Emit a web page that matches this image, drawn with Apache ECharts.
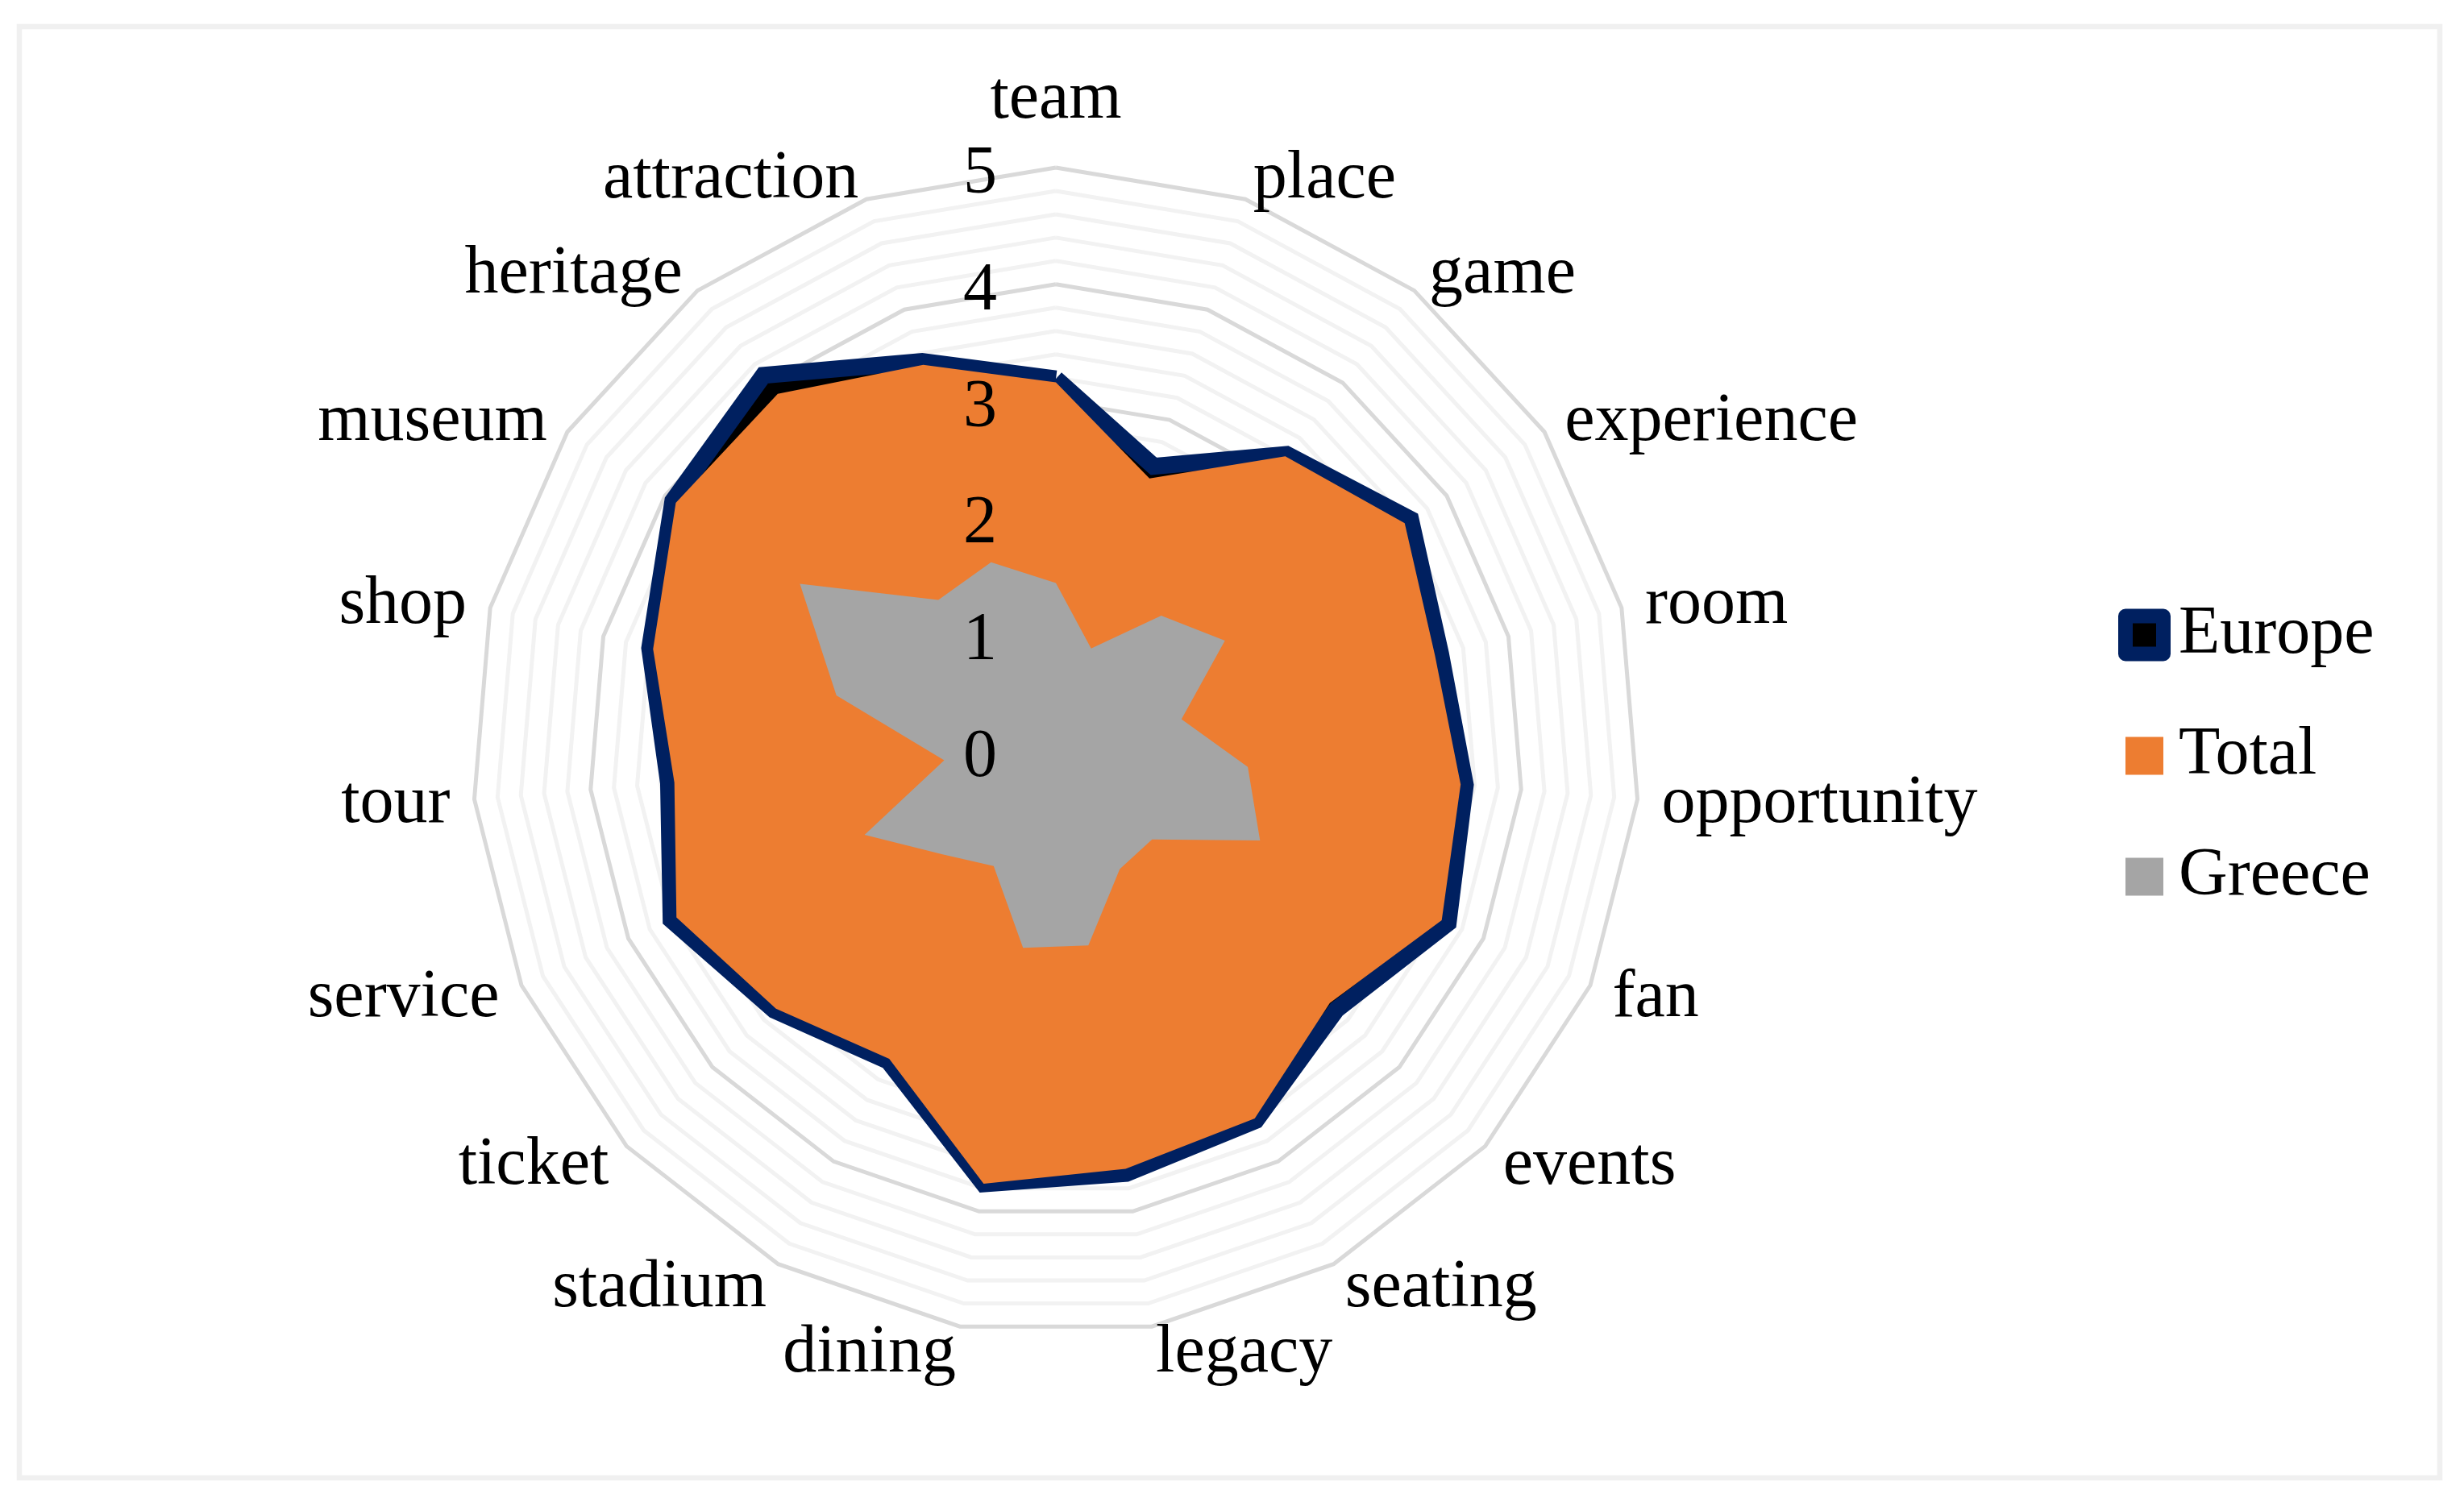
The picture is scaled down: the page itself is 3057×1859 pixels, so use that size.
<!DOCTYPE html>
<html>
<head>
<meta charset="utf-8">
<script src="https://cdn.jsdelivr.net/npm/echarts@6/dist/echarts.min.js"></script>
<style>
  html, body { margin: 0; padding: 0; background: #fff; }
  #mychart { width: 3057px; height: 1859px; }
</style>
</head>
<body>
<div id="mychart"></div>
<script>
// categories clockwise from the top
const categories = ['team', 'place', 'game', 'experience', 'room', 'opportunity', 'fan', 'events', 'seating', 'legacy',
  'dining', 'stadium', 'ticket', 'service', 'tour', 'shop', 'museum', 'heritage', 'attraction'];
const europe = [3.19, 2.58, 3.22, 3.63, 3.40, 3.52, 3.67, 3.27, 3.60, 3.67, 3.76, 3.02, 3.28, 3.60, 3.33, 3.59, 3.92, 4.08, 3.53];
const total = [3.16, 2.47, 3.20, 3.57, 3.35, 3.48, 3.61, 3.19, 3.58, 3.63, 3.76, 3.00, 3.26, 3.55, 3.28, 3.56, 3.89, 3.88, 3.50];
const greece = [1.44, 0.93, 1.47, 1.73, 1.11, 1.65, 1.91, 1.12, 1.15, 1.69, 1.71, 1.12, 1.31, 1.79, 0.96, 1.94, 2.62, 1.64, 1.71];
const tickLabels = ['0', '1', '2', '3', '4', '5'];
const seriesNames = ['Europe', 'Total', 'Greece'];

const FONT = "'Liberation Serif', 'Times New Roman', serif";
const CX = 1310, CY = 932;
const RADIUS = 724;

// echarts walks the indicators counter-clockwise, so feed them in reverse (team stays first)
const order = categories.map((c, i) => (categories.length - i) % categories.length);
const pick = arr => order.map(k => arr[k]);

const plainIndicator = order.map(k => ({ name: categories[k], min: 0, max: 5 }));

const nameIndicator = order.map(k => {
  const ind = { name: categories[k], min: 0, max: 5 };
  if (k === 0) ind.nameGap = 46;
  return ind;
});

// only the team axis carries the 0..5 labels
const labelIndicator = order.map(k => {
  const ind = { name: categories[k], min: 0, max: 5 };
  if (k === 0) {
    ind.axisLabel = {
      show: true,
      color: '#000',
      fontFamily: FONT,
      fontSize: 84,
      margin: 73,
      formatter: function (v) {
        const r = Math.round(v);
        return Math.abs(v - r) < 1e-6 ? tickLabels[r] : '';
      }
    };
  }
  return ind;
});

const hidden = {
  axisLine: { show: false },
  axisTick: { show: false },
  axisLabel: { show: false },
  splitArea: { show: false },
  splitLine: { show: false }
};

const option = {
  backgroundColor: '#fff',
  animation: false,
  graphic: [{
    type: 'rect',
    silent: true,
    z: -10,
    shape: { x: 24, y: 33, width: 3003, height: 1801 },
    style: { fill: 'none', stroke: '#f0f0f0', lineWidth: 6.5 }
  }],
  legend: {
    orient: 'vertical',
    left: 2623,
    top: 741,
    itemWidth: 47,
    itemHeight: 47,
    itemGap: 66,
    icon: 'rect',
    selectedMode: false,
    textStyle: { color: '#000', fontFamily: FONT, fontSize: 84, padding: [0, 0, 0, 14] },
    data: [
      { name: seriesNames[0], itemStyle: { color: '#000', borderColor: '#002060', borderWidth: 18, borderJoin: 'round' } },
      { name: seriesNames[1], itemStyle: { color: '#ED7D31', borderWidth: 0 } },
      { name: seriesNames[2], itemStyle: { color: '#A5A5A5', borderWidth: 0 } }
    ]
  },
  radar: [{
    // grid rings + data
    center: [CX, CY],
    radius: RADIUS,
    startAngle: 90,
    shape: 'polygon',
    splitNumber: 25,
    indicator: plainIndicator,
    axisName: { show: false },
    axisLine: { show: false },
    axisTick: { show: false },
    axisLabel: { show: false },
    splitArea: { show: false },
    splitLine: {
      lineStyle: { color: ['#d9d9d9', '#f2f2f2', '#f2f2f2', '#f2f2f2', '#f2f2f2'], width: 5 }
    }
  }, Object.assign({
    // category names
    center: [CX, CY + 4],
    radius: RADIUS,
    startAngle: 90,
    shape: 'polygon',
    splitNumber: 25,
    indicator: nameIndicator,
    nameGap: 30,
    axisName: { color: '#000', fontFamily: FONT, fontSize: 84 }
  }, hidden), Object.assign({
    // value labels, above the areas
    z: 10,
    center: [CX, CY + 9],
    radius: RADIUS,
    startAngle: 90,
    shape: 'polygon',
    splitNumber: 25,
    indicator: labelIndicator,
    axisName: { show: false }
  }, hidden, {
    axisLabel: { show: false }
  })],
  series: [{
    type: 'radar',
    radarIndex: 0,
    symbol: 'none',
    silent: true,
    data: [
      {
        // Europe fill
        name: seriesNames[0], value: pick(europe),
        itemStyle: { color: '#000' },
        lineStyle: { width: 0, opacity: 0 },
        areaStyle: { color: '#000', opacity: 1 }
      },
      {
        // Europe outline, drawn over its own fill
        name: seriesNames[0], value: pick(europe),
        itemStyle: { color: '#002060' },
        lineStyle: { color: '#002060', width: 21, join: 'miter' },
        areaStyle: { opacity: 0 }
      },
      {
        name: seriesNames[1], value: pick(total),
        itemStyle: { color: '#ED7D31' },
        lineStyle: { width: 0, opacity: 0 },
        areaStyle: { color: '#ED7D31', opacity: 1 }
      },
      {
        name: seriesNames[2], value: pick(greece),
        itemStyle: { color: '#A5A5A5' },
        lineStyle: { width: 0, opacity: 0 },
        areaStyle: { color: '#A5A5A5', opacity: 1 }
      }
    ]
  }]
};

const myChart = echarts.init(document.getElementById('mychart'));
myChart.setOption(option);
</script>
</body>
</html>
